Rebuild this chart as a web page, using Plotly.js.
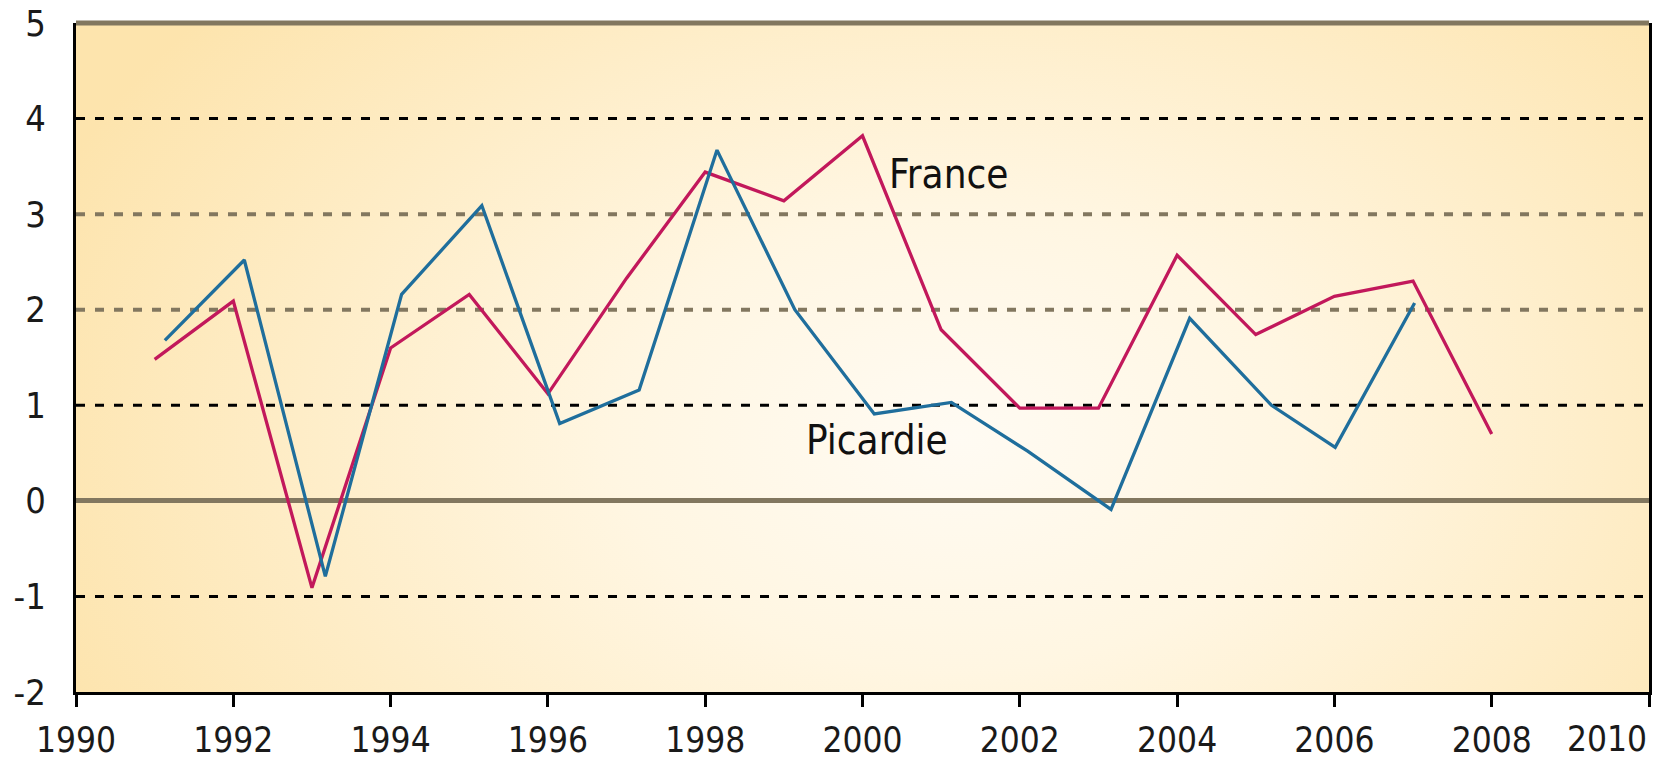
<!DOCTYPE html>
<html>
<head>
<meta charset="utf-8">
<script src="https://cdn.plot.ly/plotly-3.0.1.min.js"></script>
<style>
  html, body { margin: 0; padding: 0; background: #fff; }
  #chart { width: 1653px; height: 760px; }
</style>
</head>
<body>
<div id="chart"></div>
<script>
// values
const franceYears = [1991, 1992, 1993, 1994, 1995, 1996, 1997, 1998, 1999, 2000,
  2001, 2002, 2003, 2004, 2005, 2006, 2007, 2008];
const franceVals = [1.48, 2.09, -0.91, 1.60, 2.16, 1.12, 2.33, 3.44, 3.14, 3.82,
  1.79, 0.97, 0.97, 2.57, 1.74, 2.14, 2.30, 0.70];

const picardieYears = [1991.13, 1992.14, 1993.17, 1994.14, 1995.16, 1996.15, 1997.16,
  1998.15, 1999.14, 2000.15, 2001.13, 2002.1, 2003.16, 2004.16, 2005.2, 2006.01, 2007.02];
const picardieVals = [1.68, 2.52, -0.79, 2.16, 3.09, 0.81, 1.16, 3.67, 2.0, 0.91,
  1.03, 0.52, -0.09, 1.91, 1.0, 0.56, 2.07];

const xTickVals = [1990, 1992, 1994, 1996, 1998, 2000, 2002, 2004, 2006, 2008, 2010];
const xTickText = ["1990", "1992", "1994", "1996", "1998", "2000", "2002", "2004",
  "2006", "2008", "2010"];
const yTickVals = [-2, -1, 0, 1, 2, 3, 4, 5];
const yTickText = ["-2", "-1", "0", "1", "2", "3", "4", "5"];

const blackGrid = [4, 1, -1];
const greyGrid = [3, 2];

const labels = [
  { text: "France", x: 2001.09, y: 3.42 },
  { text: "Picardie", x: 2000.19, y: 0.64 },
];

const FONT = "'Liberation Sans Narrow', 'DejaVu Sans Condensed', 'Liberation Sans', sans-serif";
const BROWN = "#82775f";

// soft radial background, like the original
function backgroundImage() {
  const w = 1573, h = 669;
  const c = document.createElement("canvas");
  c.width = w;
  c.height = h;
  const ctx = c.getContext("2d");
  ctx.save();
  ctx.translate(w * 0.56, h * 0.62);
  ctx.scale(1, h / w * 1.6);
  const g = ctx.createRadialGradient(0, 0, 0, 0, 0, w * 0.62);
  g.addColorStop(0, "#fffbf3");
  g.addColorStop(0.35, "#fff6e2");
  g.addColorStop(1, "#fde4ad");
  ctx.fillStyle = g;
  ctx.fillRect(-w, -w * 2, w * 2, w * 4);
  ctx.restore();
  return c.toDataURL("image/png");
}

const traces = [
  {
    x: franceYears,
    y: franceVals,
    mode: "lines",
    name: "France",
    line: { color: "#c2185b", width: 3.3 },
  },
  {
    x: picardieYears,
    y: picardieVals,
    mode: "lines",
    name: "Picardie",
    line: { color: "#1f6e9c", width: 3.3 },
  },
];

const gridShape = (v, color, width) => ({
  type: "line",
  xref: "paper", x0: 0, x1: 1,
  yref: "y", y0: v, y1: v,
  layer: "below",
  line: { color: color, width: width, dash: "9px,10px" },
});

const shapes = [
  ...blackGrid.map((v) => gridShape(v, "#000", 3)),
  ...greyGrid.map((v) => gridShape(v, BROWN, 4)),
  {
    type: "line",
    xref: "paper", x0: 0, x1: 1,
    yref: "paper", y0: 1, y1: 1,
    line: { color: BROWN, width: 5 },
  },
];

// the last year label sits flush with the right edge, like the original
const lastTick = xTickText.length - 1;
const annotations = labels.map((l) => ({
  text: l.text,
  x: l.x,
  y: l.y,
  xref: "x",
  yref: "y",
  showarrow: false,
  font: { family: FONT, size: 40, color: "#111" },
}));
annotations.push({
  text: xTickText[lastTick],
  x: xTickVals[lastTick],
  xref: "x",
  xanchor: "right",
  y: -0.07,
  yref: "paper",
  yanchor: "middle",
  showarrow: false,
  font: { family: FONT, size: 35, color: "#1a1a1a" },
});

Plotly.newPlot("chart", traces, {
  width: 1653,
  height: 760,
  margin: { l: 76, r: 4, t: 23, b: 68, pad: 0 },
  paper_bgcolor: "#fff",
  plot_bgcolor: "#fef0cc",
  showlegend: false,
  hovermode: false,
  font: { family: FONT, size: 36, color: "#1a1a1a" },
  xaxis: {
    range: [1990, 2010],
    tickmode: "array",
    tickvals: xTickVals,
    ticktext: xTickText.map((t, i) => (i === lastTick ? "" : t)),
    ticks: "outside",
    ticklen: 12,
    tickwidth: 3,
    tickcolor: "#000",
    ticklabelstandoff: 3,
    showline: true,
    linecolor: "#000",
    linewidth: 3,
    showgrid: false,
    zeroline: false,
    tickfont: { family: FONT, size: 35, color: "#1a1a1a" },
  },
  yaxis: {
    range: [-2, 5],
    tickmode: "array",
    tickvals: yTickVals,
    ticktext: yTickText,
    ticks: "",
    showline: true,
    mirror: true,
    linecolor: "#000",
    linewidth: 3,
    showgrid: false,
    zeroline: true,
    zerolinecolor: BROWN,
    zerolinewidth: 5,
    ticklabelstandoff: 20,
    tickfont: { family: FONT, size: 36, color: "#1a1a1a" },
  },
  images: [
    {
      source: backgroundImage(),
      xref: "paper", yref: "paper",
      x: 0, y: 1, sizex: 1, sizey: 1,
      xanchor: "left", yanchor: "top",
      sizing: "stretch",
      layer: "below",
    },
  ],
  shapes: shapes,
  annotations: annotations,
}, { displayModeBar: false, staticPlot: true });
</script>
</body>
</html>
